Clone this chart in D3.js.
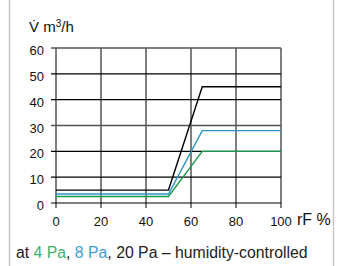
<!DOCTYPE html>
<html lang="en">
<head>
<meta charset="utf-8">
<title>Volume flow vs humidity</title>
<script src="https://d3js.org/d3.v7.min.js"></script>
<style>
  body { margin: 0; background: #fff; }
  svg { display: block; font-family: "Liberation Sans", Arial, sans-serif; }
</style>
</head>
<body>
<div id="chart"></div>
<script>
// relative humidity breakpoints (rF %)
const humidity = [0, 50, 65, 100];
// volume flow per pressure (m3/h)
const flow20Pa = [5, 5, 45, 45];
const flow8Pa = [3.5, 3.5, 28, 28];
const flow4Pa = [2.5, 2.5, 20, 20];
const xTicks = [0, 20, 40, 60, 80, 100];
const yTicks = [0, 10, 20, 30, 40, 50, 60];

const width = 337, height = 266;
const plotLeft = 56, plotRight = 281, plotTop = 48, plotBottom = 203;

const svg = d3.select("#chart").append("svg")
  .attr("width", width)
  .attr("height", height);

// panel borders
svg.append("line").attr("x1", 9.5).attr("x2", 9.5).attr("y1", 0).attr("y2", height)
  .attr("stroke", "#c8c8c8").attr("stroke-width", 1.5);
svg.append("line").attr("x1", 333.5).attr("x2", 333.5).attr("y1", 0).attr("y2", height)
  .attr("stroke", "#c8c8c8").attr("stroke-width", 1.5);

const x = d3.scaleLinear().domain([0, 100]).range([plotLeft, plotRight]);
const y = d3.scaleLinear().domain([0, 60]).range([plotBottom, plotTop]);

// vertical grid + ticks
svg.append("g").selectAll("line").data(xTicks).enter().append("line")
  .attr("x1", d => x(d)).attr("x2", d => x(d))
  .attr("y1", plotTop).attr("y2", plotBottom + 5)
  .attr("stroke", "#555").attr("stroke-width", 1.5);

// horizontal grid + ticks
svg.append("g").selectAll("line").data(yTicks).enter().append("line")
  .attr("x1", plotLeft - 5).attr("x2", plotRight)
  .attr("y1", d => y(d)).attr("y2", d => y(d))
  .attr("stroke", d => (d === 30 || d === 60) ? "#555" : "#000")
  .attr("stroke-width", d => (d === 30 || d === 60) ? 1.5 : 1.2);

// tick labels
svg.append("g").selectAll("text").data(yTicks).enter().append("text")
  .attr("x", 44).attr("y", d => y(d) + 7)
  .attr("text-anchor", "end")
  .attr("font-size", 13).attr("fill", "#111")
  .text(d => d);

svg.append("g").selectAll("text").data(xTicks).enter().append("text")
  .attr("x", d => x(d)).attr("y", 226)
  .attr("text-anchor", "middle")
  .attr("font-size", 13).attr("fill", "#111")
  .text(d => d);

// axis titles
svg.append("text").attr("x", 29).attr("y", 32)
  .attr("font-size", 15).attr("fill", "#111")
  .html("V\u0307 m<tspan font-size='10' dy='-5'>3</tspan><tspan dy='5'>/h</tspan>");
svg.append("text").attr("x", 297).attr("y", 225)
  .attr("font-size", 16).attr("fill", "#111")
  .text("rF %");

// series
const line = d3.line().x((d, i) => x(humidity[i])).y(d => y(d));
const series = [
  { values: flow4Pa, color: "#1a9b4b" },
  { values: flow8Pa, color: "#2a96c4" },
  { values: flow20Pa, color: "#000" }
];
svg.append("g").selectAll("path").data(series).enter().append("path")
  .attr("d", d => line(d.values))
  .attr("fill", "none")
  .attr("stroke", d => d.color)
  .attr("stroke-width", 1.4);

// caption
const cap = svg.append("text").attr("x", 16).attr("y", 258)
  .attr("font-size", 15.8).attr("fill", "#222");
cap.append("tspan").text("at ");
cap.append("tspan").attr("fill", "#3bb36a").text("4 Pa");
cap.append("tspan").text(", ");
cap.append("tspan").attr("fill", "#3a9fd0").text("8 Pa");
cap.append("tspan").text(", 20 Pa \u2013 humidity-controlled");
</script>
</body>
</html>
